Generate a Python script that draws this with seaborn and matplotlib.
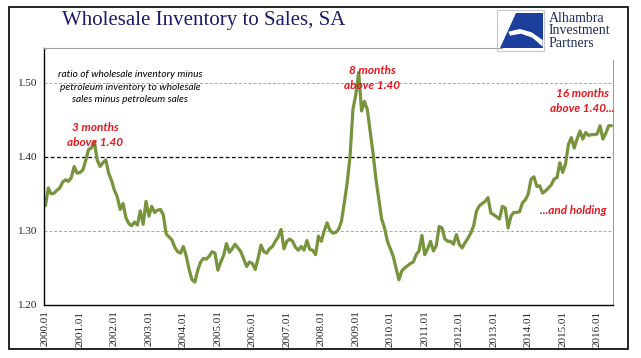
import numpy as np
import pandas as pd
import seaborn as sns
import matplotlib.pyplot as plt
from matplotlib.patches import Rectangle, Polygon

# monthly ratio, 2000.01 .. 2016.06
ratio = [
    1.334, 1.358, 1.350, 1.351, 1.355, 1.358, 1.366, 1.369, 1.367, 1.372, 1.387, 1.378,  # 2000
    1.379, 1.382, 1.395, 1.410, 1.412, 1.421, 1.396, 1.387, 1.392, 1.396, 1.378, 1.368,  # 2001
    1.355, 1.346, 1.329, 1.337, 1.318, 1.310, 1.307, 1.312, 1.308, 1.327, 1.309, 1.340,  # 2002
    1.320, 1.333, 1.325, 1.328, 1.329, 1.322, 1.296, 1.292, 1.288, 1.278, 1.272, 1.270,  # 2003
    1.279, 1.266, 1.248, 1.234, 1.231, 1.247, 1.258, 1.263, 1.262, 1.266, 1.272, 1.270,  # 2004
    1.247, 1.258, 1.267, 1.283, 1.271, 1.276, 1.282, 1.277, 1.272, 1.262, 1.252, 1.258,  # 2005
    1.256, 1.248, 1.263, 1.281, 1.272, 1.270, 1.276, 1.279, 1.286, 1.292, 1.302, 1.276,  # 2006
    1.286, 1.289, 1.286, 1.278, 1.274, 1.279, 1.274, 1.287, 1.275, 1.274, 1.268, 1.293,  # 2007
    1.286, 1.300, 1.311, 1.301, 1.297, 1.298, 1.302, 1.313, 1.338, 1.365, 1.401, 1.464,  # 2008
    1.484, 1.514, 1.462, 1.475, 1.464, 1.435, 1.405, 1.370, 1.343, 1.316, 1.304, 1.286,  # 2009
    1.276, 1.266, 1.250, 1.234, 1.246, 1.250, 1.253, 1.256, 1.258, 1.268, 1.273, 1.294,  # 2010
    1.268, 1.276, 1.286, 1.273, 1.280, 1.306, 1.304, 1.289, 1.286, 1.286, 1.282, 1.295,  # 2011
    1.282, 1.277, 1.284, 1.290, 1.297, 1.307, 1.327, 1.334, 1.337, 1.340, 1.345, 1.324,  # 2012
    1.322, 1.319, 1.316, 1.333, 1.331, 1.304, 1.320, 1.325, 1.325, 1.326, 1.338, 1.342,  # 2013
    1.350, 1.370, 1.373, 1.360, 1.361, 1.351, 1.354, 1.358, 1.362, 1.370, 1.372, 1.392,  # 2014
    1.379, 1.391, 1.417, 1.426, 1.412, 1.424, 1.435, 1.424, 1.433, 1.429, 1.430, 1.430,  # 2015
    1.431, 1.442, 1.424, 1.432, 1.442, 1.442,                                            # 2016
]
years = list(range(2000, 2017))
year_labels = [f"{y}.01" for y in years]
yticks = [1.20, 1.30, 1.40, 1.50]

W, H = 641, 358
def fx(x): return x / W
def fy(y): return 1 - y / H

df = pd.DataFrame({"month": np.arange(len(ratio)), "ratio": ratio})

sns.set_style("white")
plt.rcParams["font.family"] = ["Liberation Serif", "DejaVu Serif"]

fig = plt.figure(figsize=(6.41, 3.58), dpi=100)
ax_l, ax_r, ax_t, ax_b = 44, 613, 48, 305
ax = fig.add_axes([fx(ax_l), fy(ax_b), fx(ax_r) - fx(ax_l), fy(ax_t) - fy(ax_b)])

sns.lineplot(data=df, x="month", y="ratio", ax=ax, color="#77933C", linewidth=2.3)

x0, x1 = -0.5, len(ratio) - 0.5
y0, y1 = 1.20, 1.547
ax.set_xlim(x0, x1)
ax.set_ylim(y0, y1)

# gridlines
for v in (1.30, 1.50):
    ax.axhline(v, color="#a6a6a6", lw=0.7, ls=(0, (3, 2)), zorder=0)
ax.axhline(1.40, color="black", lw=0.9, ls=(0, (3, 2)), zorder=0)

ax.set_yticks(yticks)
ax.set_yticklabels([f"{v:.2f}" for v in yticks], fontsize=8)
ax.set_xticks([12 * i for i in range(len(years))])
ax.set_xticklabels(year_labels, rotation=90, fontsize=8)
ax.set_xticks(np.arange(-0.5, len(ratio), 1), minor=True)
ax.tick_params(axis="x", which="both", direction="out", length=3, width=0.6, color="black", pad=4)
ax.tick_params(axis="x", which="major", length=0)
ax.tick_params(axis="y", direction="out", length=3, width=0.6, color="black", pad=2)
ax.set_xlabel("")
ax.set_ylabel("")

for side in ("left", "bottom"):
    ax.spines[side].set_color("black")
    ax.spines[side].set_linewidth(1.0)
for side in ("top", "right"):
    ax.spines[side].set_color("#a0a0a0")
    ax.spines[side].set_linewidth(0.8)
# the logo box cuts the top-right corner of the frame
ax.spines["top"].set_bounds(x0, x0 + (502 - ax_l) / (ax_r - ax_l) * (x1 - x0))
ax.spines["right"].set_bounds(y0, y0 + (ax_b - 60) / (ax_b - ax_t) * (y1 - y0))

# annotations
red = dict(color="#e8141c", fontsize=8.5, fontweight="bold", style="italic",
           family=["Lato", "DejaVu Sans"], ha="center", va="center", linespacing=1.5)
fig.text(fx(95), fy(135), "3 months\nabove 1.40", **red)
fig.text(fx(372), fy(78), "8 months\nabove 1.40", **red)
fig.text(fx(582), fy(101), "16 months\nabove 1.40...", **red)
fig.text(fx(573), fy(210), "...and holding", **red)
fig.text(fx(130), fy(87), "ratio of wholesale inventory minus\npetroleum inventory to wholesale\nsales minus petroleum sales",
         color="black", fontsize=7.3, style="italic", family=["Lato", "DejaVu Sans"],
         ha="center", va="center", linespacing=1.45)

# title
fig.text(fx(62), fy(21), "Wholesale Inventory to Sales, SA", color="#1b1b6e", fontsize=15,
         ha="left", va="center")

# logo
fig.patches.append(Rectangle((fx(497), fy(51)), fx(544) - fx(497), fy(10) - fy(51),
                             transform=fig.transFigure, fill=False, ec="#c8c8c8", lw=0.8))
def lp(zx, zy): return (fx(495 + zx / 3), fy(5 + zy / 3))
fig.patches.append(Polygon([lp(62, 25), lp(143, 25), lp(143, 130), lp(15, 130)],
                           transform=fig.transFigure, fc="#1c3f9e", ec="none"))
fig.patches.append(Polygon([lp(40, 80), lp(75, 72), lp(110, 82), lp(143, 105), lp(143, 125),
                            lp(112, 98), lp(78, 86), lp(45, 92)],
                           transform=fig.transFigure, fc="white", ec="none"))
fig.text(fx(549), fy(31), "Alhambra\nInvestment\nPartners", color="#1f2a5c", fontsize=10,
         ha="left", va="center", linespacing=0.95)

# outer frame
fig.patches.append(Rectangle((fx(9), fy(349)), fx(628) - fx(9), fy(7) - fy(349),
                             transform=fig.transFigure, fill=False, ec="black", lw=1.2))

fig.savefig("out.png", dpi=100)
